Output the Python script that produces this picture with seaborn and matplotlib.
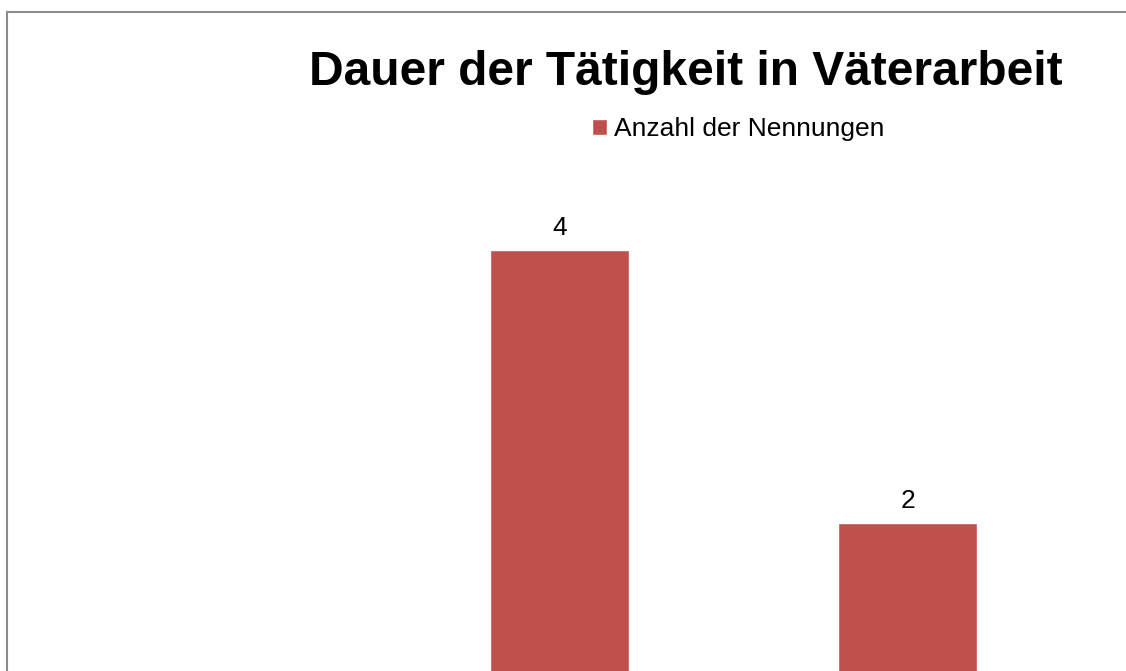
import matplotlib
matplotlib.use("Agg")
import matplotlib.pyplot as plt
import seaborn as sns
import pandas as pd

# ---- data ----
categories = ["Kategorie 1", "Kategorie 2"]   # axis labels are cut off in the reference
values = [4, 2]
series_name = "Anzahl der Nennungen"
title = "Dauer der Tätigkeit in Väterarbeit"

df = pd.DataFrame({"Kategorie": categories, "Wert": values, "Serie": series_name})

sns.set_theme(style="white")
plt.rcParams["font.family"] = ["Liberation Sans", "DejaVu Sans"]
plt.rcParams["text.color"] = "black"

W, H = 1126, 671
fig = plt.figure(figsize=(W / 100, H / 100), dpi=100)
fig.patch.set_facecolor("white")

# axes: from the chart frame (left x=7, top y=11) to the right/bottom edges (cropped chart)
left_px, top_px = 7.5, 11.5
ax = fig.add_axes([left_px / W, 0, (W - left_px) / W, (H - top_px) / H])

sns.barplot(data=df, x="Kategorie", y="Wert", hue="Serie",
            palette=["#C0504D"], width=0.4, saturation=1, ax=ax)

# scale mapping: category 0 centre at px 559.5, spacing 348 px
c0, step = 559.5, 348.0
ax.set_xlim((left_px - c0) / step, (W - c0) / step)
# value 0 at px 796 (below visible area), 136.5 px per unit
zero_px, unit = 796.0, 136.5
ax.set_ylim((zero_px - H) / unit, (zero_px - top_px) / unit)

for cont in ax.containers:
    ax.bar_label(cont, labels=[str(v) for v in values], padding=7.5,
                 fontsize=19, color="black")

ax.set_xticks([])
ax.set_yticks([])
ax.set_xlabel("")
ax.set_ylabel("")
for s in ["right", "bottom"]:
    ax.spines[s].set_visible(False)
for s in ["left", "top"]:
    ax.spines[s].set_color("#8c8c8c")
    ax.spines[s].set_linewidth(1.5)

# title
fig.text(686 / W, 1 - 85 / H, title, ha="center", va="baseline",
         fontsize=34.5, fontweight="bold", color="black")

# legend
handles, labels = ax.get_legend_handles_labels()
leg = ax.legend(handles, labels, loc="center left",
                bbox_to_anchor=(592 / W, 1 - 129 / H), bbox_transform=fig.transFigure,
                frameon=False, fontsize=19, handlelength=0.56, handleheight=0.56,
                handletextpad=0.27, borderpad=0, borderaxespad=0)
for t in leg.get_texts():
    t.set_color("black")

fig.savefig("out.png", dpi=100, facecolor="white")
